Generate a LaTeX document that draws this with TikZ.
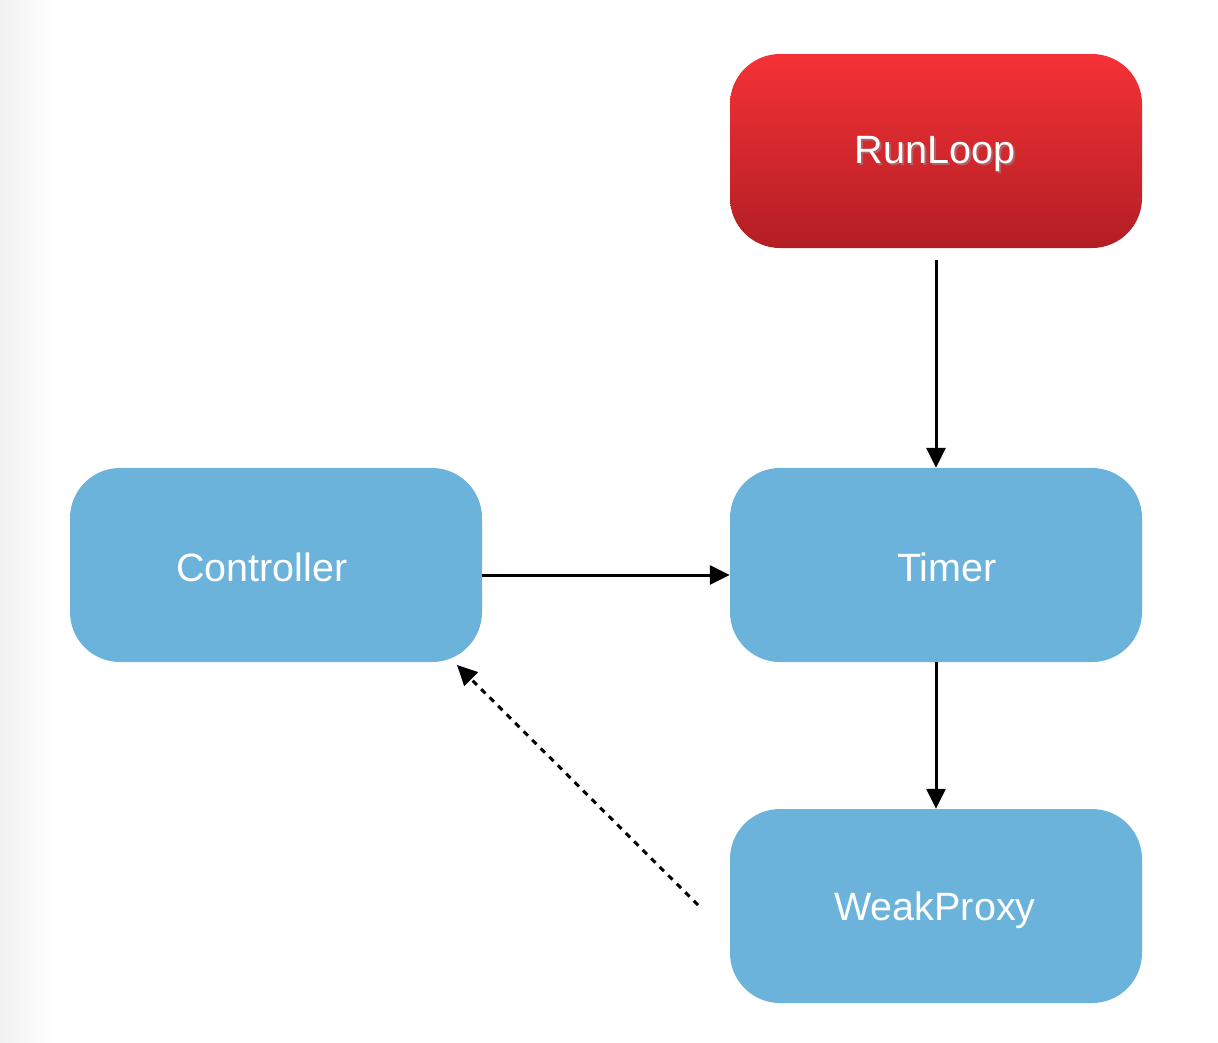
\documentclass[tikz,border=0pt]{standalone}
\usepackage{fontspec}
\setmainfont{Liberation Sans}
\usetikzlibrary{arrows.meta,shadings}
\definecolor{boxblue}{HTML}{6CB3DC}
\definecolor{redtop}{HTML}{F43236}
\definecolor{redbot}{HTML}{B21E24}
\definecolor{edgegray}{HTML}{F1F1F1}
\begin{document}
\begin{tikzpicture}[x=1pt,y=-1pt,
  blockbox/.style={rounded corners=50pt, minimum width=412pt, minimum height=194pt, inner sep=0pt},
  bluebox/.style={blockbox, fill=boxblue},
  redbox/.style={blockbox, top color=redtop, bottom color=redbot},
  lbl/.style={text=white, font=\fontsize{39.5}{42}\selectfont},
  conn/.style={line width=3pt, -{Triangle[length=20pt,width=19pt]}},
  dconn/.style={conn, dash pattern=on 6pt off 6pt}
]
\useasboundingbox (0,0) rectangle (1218,1042);
\fill[white] (0,0) rectangle (1218,1042);
\shade[left color=edgegray, right color=white] (0,0) rectangle (55,1042);
\node[redbox] (runloop) at (936,151) {};
\node[bluebox] (timer) at (936,565) {};
\node[bluebox] (controller) at (276,565) {};
\node[bluebox] (weak) at (936,906) {};
\node[lbl, text=black!40, opacity=0.5] at (937,156) {RunLoop};
\node[lbl] (runlooptext) at (935,154) {RunLoop};
\node[lbl] (timertext) at (947,567) {Timer};
\node[lbl] (controllertext) at (262,567) {Controller};
\node[lbl] (weaktext) at (935,910) {WeakProxy};
\coordinate (rlout) at (936,260);
\coordinate (dstart) at (698,905);
\draw[conn] (rlout) -- (timer.north);
\draw[conn] (timer.south) -- (weak.north);
\draw[conn] (controller.east |- 0,575) -- (timer.west |- 0,575);
\draw[dconn] (dstart) -- (457,665);
\end{tikzpicture}
\end{document}
